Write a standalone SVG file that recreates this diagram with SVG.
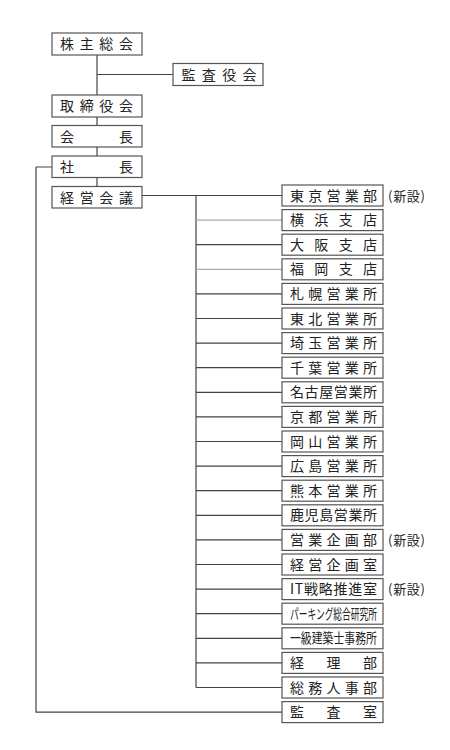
<svg xmlns="http://www.w3.org/2000/svg" width="450" height="750" viewBox="0 0 450 750">
<style>
.b{fill:#fff;stroke:#555;stroke-width:1.2}
.t{font-family:"Noto Sans CJK JP","Noto Sans CJK SC",sans-serif;font-size:14px;fill:#222}
.c{font-family:"Noto Sans CJK JP","Noto Sans CJK SC",sans-serif;font-size:14px;fill:#222}
.n{font-family:"Noto Sans CJK JP","Noto Sans CJK SC",sans-serif;font-size:13px;fill:#222}
.l{stroke:#444;stroke-width:1.2;fill:none}
.lg{stroke:#aaa;stroke-width:1.2;fill:none}
</style>
<rect width="450" height="750" fill="#fff"/>
<g id="connectors">
<path class="l" d="M97 55V95M97 74.5H173M97 117V125.5M97 147V156M97 177.5V186.5"/>
<path class="l" d="M36 167H52M36 167V712.1H282"/>
<path class="l" d="M141 195.5H282M196 195.5V687.5"/>
<path class="lg" d="M196 220.1H282M196 269.3H282"/>
<path class="l" d="M196 244.7H282M196 293.9H282M196 318.5H282M196 343.1H282M196 367.7H282M196 392.3H282M196 416.9H282M196 441.5H282M196 466.1H282M196 490.7H282M196 515.3H282M196 539.9H282M196 564.5H282M196 589.1H282M196 613.7H282M196 638.3H282M196 662.9H282M196 687.5H282"/>
</g>
<g id="kabunushi" transform="translate(52,33)"><rect class="b" width="90" height="22"/><text class="t" x="8" y="16" textLength="73" lengthAdjust="spacing">株主総会</text></g>
<g id="kansayakukai" transform="translate(173,63.5)"><rect class="b" width="90" height="22"/><text class="t" x="8.5" y="16" textLength="75" lengthAdjust="spacing">監査役会</text></g>
<g id="torishimariyakukai" transform="translate(52,95)"><rect class="b" width="90" height="22"/><text class="t" x="8" y="16" textLength="73" lengthAdjust="spacing">取締役会</text></g>
<g id="kaicho" transform="translate(52,125.5)"><rect class="b" width="90" height="21.5"/><text class="t" x="8" y="16" textLength="73" lengthAdjust="spacing">会長</text></g>
<g id="shacho" transform="translate(52,156)"><rect class="b" width="90" height="21.5"/><text class="t" x="8" y="16" textLength="73" lengthAdjust="spacing">社長</text></g>
<g id="keieikaigi" transform="translate(52,186.5)"><rect class="b" width="90" height="21.5"/><text class="t" x="8" y="16" textLength="73" lengthAdjust="spacing">経営会議</text></g>
<g id="tokyo" transform="translate(282,185)"><rect class="b" width="101" height="21"/><text class="t" x="8" y="15.5" textLength="87" lengthAdjust="spacing">東京営業部</text><text class="n" x="106" y="15.5" textLength="37" lengthAdjust="spacing">(新設)</text></g>
<g id="yokohama" transform="translate(282,209.6)"><rect class="b" width="101" height="21"/><text class="t" x="8" y="15.5" textLength="87" lengthAdjust="spacing">横浜支店</text></g>
<g id="osaka" transform="translate(282,234.2)"><rect class="b" width="101" height="21"/><text class="t" x="8" y="15.5" textLength="87" lengthAdjust="spacing">大阪支店</text></g>
<g id="fukuoka" transform="translate(282,258.8)"><rect class="b" width="101" height="21"/><text class="t" x="8" y="15.5" textLength="87" lengthAdjust="spacing">福岡支店</text></g>
<g id="sapporo" transform="translate(282,283.4)"><rect class="b" width="101" height="21"/><text class="t" x="8" y="15.5" textLength="87" lengthAdjust="spacing">札幌営業所</text></g>
<g id="tohoku" transform="translate(282,308)"><rect class="b" width="101" height="21"/><text class="t" x="8" y="15.5" textLength="87" lengthAdjust="spacing">東北営業所</text></g>
<g id="saitama" transform="translate(282,332.6)"><rect class="b" width="101" height="21"/><text class="t" x="8" y="15.5" textLength="87" lengthAdjust="spacing">埼玉営業所</text></g>
<g id="chiba" transform="translate(282,357.2)"><rect class="b" width="101" height="21"/><text class="t" x="8" y="15.5" textLength="87" lengthAdjust="spacing">千葉営業所</text></g>
<g id="nagoya" transform="translate(282,381.8)"><rect class="b" width="101" height="21"/><text class="t" x="8" y="15.5" textLength="87" lengthAdjust="spacing">名古屋営業所</text></g>
<g id="kyoto" transform="translate(282,406.4)"><rect class="b" width="101" height="21"/><text class="t" x="8" y="15.5" textLength="87" lengthAdjust="spacing">京都営業所</text></g>
<g id="okayama" transform="translate(282,431)"><rect class="b" width="101" height="21"/><text class="t" x="8" y="15.5" textLength="87" lengthAdjust="spacing">岡山営業所</text></g>
<g id="hiroshima" transform="translate(282,455.6)"><rect class="b" width="101" height="21"/><text class="t" x="8" y="15.5" textLength="87" lengthAdjust="spacing">広島営業所</text></g>
<g id="kumamoto" transform="translate(282,480.2)"><rect class="b" width="101" height="21"/><text class="t" x="8" y="15.5" textLength="87" lengthAdjust="spacing">熊本営業所</text></g>
<g id="kagoshima" transform="translate(282,504.8)"><rect class="b" width="101" height="21"/><text class="t" x="8" y="15.5" textLength="87" lengthAdjust="spacing">鹿児島営業所</text></g>
<g id="eigyokikaku" transform="translate(282,529.4)"><rect class="b" width="101" height="21"/><text class="t" x="8" y="15.5" textLength="87" lengthAdjust="spacing">営業企画部</text><text class="n" x="106" y="15.5" textLength="37" lengthAdjust="spacing">(新設)</text></g>
<g id="keieikikaku" transform="translate(282,554)"><rect class="b" width="101" height="21"/><text class="t" x="8" y="15.5" textLength="87" lengthAdjust="spacing">経営企画室</text></g>
<g id="itsenryaku" transform="translate(282,578.6)"><rect class="b" width="101" height="21"/><text class="t" x="8" y="15.5" textLength="87" lengthAdjust="spacing">IT戦略推進室</text><text class="n" x="106" y="15.5" textLength="37" lengthAdjust="spacing">(新設)</text></g>
<g id="parking" transform="translate(282,603.2)"><rect class="b" width="101" height="21"/><text class="c" x="8" y="15.5" textLength="87" lengthAdjust="spacingAndGlyphs">パーキング総合研究所</text></g>
<g id="ikkyu" transform="translate(282,627.8)"><rect class="b" width="101" height="21"/><text class="c" x="8" y="15.5" textLength="87" lengthAdjust="spacingAndGlyphs">一級建築士事務所</text></g>
<g id="keiri" transform="translate(282,652.4)"><rect class="b" width="101" height="21"/><text class="t" x="8" y="15.5" textLength="87" lengthAdjust="spacing">経理部</text></g>
<g id="somujinji" transform="translate(282,677)"><rect class="b" width="101" height="21"/><text class="t" x="8" y="15.5" textLength="87" lengthAdjust="spacing">総務人事部</text></g>
<g id="kansashitsu" transform="translate(282,701.6)"><rect class="b" width="101" height="21"/><text class="t" x="8" y="15.5" textLength="87" lengthAdjust="spacing">監査室</text></g>
</svg>
